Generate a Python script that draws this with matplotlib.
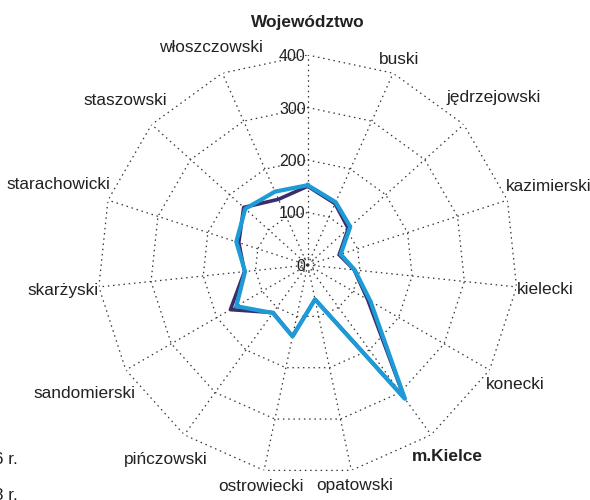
import numpy as np
import matplotlib
matplotlib.use('Agg')
import matplotlib.pyplot as plt

categories = ['Województwo', 'buski', 'jędrzejowski', 'kazimierski', 'kielecki',
              'konecki', 'm.Kielce', 'opatowski', 'ostrowiecki', 'pińczowski',
              'sandomierski', 'skarżyski', 'starachowicki', 'staszowski',
              'włoszczowski']
bold_categories = ['Województwo', 'm.Kielce']
values_2016 = [150, 128, 104, 63, 89, 132, 314, 67, 139, 112, 170, 121, 138, 164, 137]
values_2018 = [152, 131, 109, 66, 90, 138, 315, 67, 139, 113, 157, 120, 143, 160, 153]
series_labels = ['2016 r.', '2018 r.']
radial_ticks = [0, 100, 200, 300, 400]

plt.rcParams['font.family'] = ['Liberation Sans', 'DejaVu Sans']

W, H = 590, 500
fig = plt.figure(figsize=(W / 100, H / 100), dpi=100)
cx, cy, R = 307.7, 265.0, 210.0
ax = fig.add_axes([(cx - R) / W, (H - cy - R) / H, 2 * R / W, 2 * R / H],
                  projection='polar')
ax.set_theta_zero_location('N')
ax.set_theta_direction(-1)
ax.set_ylim(0, 400)
ax.grid(False)
ax.spines['polar'].set_visible(False)
ax.set_xticks([])
ax.set_yticks([])
ax.patch.set_alpha(0)

n = len(categories)
theta = np.arange(n) * 2 * np.pi / n
closed = np.append(theta, theta[0])

grid_style = dict(color='#333333', lw=0.9, ls=(0, (1.2, 3.0)), zorder=1)
for lv in radial_ticks[1:]:
    ax.plot(closed, [lv] * (n + 1), **grid_style)
ax.plot(closed, [14] * (n + 1), **grid_style)
for t in theta:
    ax.plot([t, t], [0, radial_ticks[-1]], **grid_style)

for v in radial_ticks:
    ax.annotate(str(v), xy=(0, v), xytext=(-2, 0), textcoords='offset pixels',
                ha='right', va='center_baseline', fontsize=11.5, color='#222222',
                zorder=2)

ax.plot(closed, values_2016 + values_2016[:1], color='#3b2c6b', lw=2.6,
        zorder=3, label=series_labels[0])
ax.plot(closed, values_2018 + values_2018[:1], color='#1c9bd7', lw=3.0,
        zorder=4, label=series_labels[1])

labels = []
for t, name in zip(theta, categories):
    a = ax.annotate(name, xy=(t, radial_ticks[-1]), xytext=(0, 0),
                    textcoords='offset pixels', ha='center', va='center',
                    fontsize=12.4, color='#222222',
                    fontweight='bold' if name in bold_categories else 'normal',
                    annotation_clip=False)
    labels.append(a)

fig.canvas.draw()
renderer = fig.canvas.get_renderer()
for i, (t, a) in enumerate(zip(theta, labels)):
    bb = a.get_window_extent(renderer)
    w, h = bb.width, bb.height
    s, c = np.sin(t), np.cos(t)
    ext = abs(s) * w / 2 + abs(c) * h / 2
    gap = 25 if i == 0 else 0
    d = ext + gap
    a.xyann = (d * s, d * c)

fig.text(18 / W, 1 - 460 / H, '20' + series_labels[0][2:], ha='right', va='center',
         fontsize=12.4, color='#222222')
fig.text(18 / W, 1 - 495 / H, '20' + series_labels[1][2:], ha='right', va='center',
         fontsize=12.4, color='#222222')

fig.savefig('out.png', dpi=100)
